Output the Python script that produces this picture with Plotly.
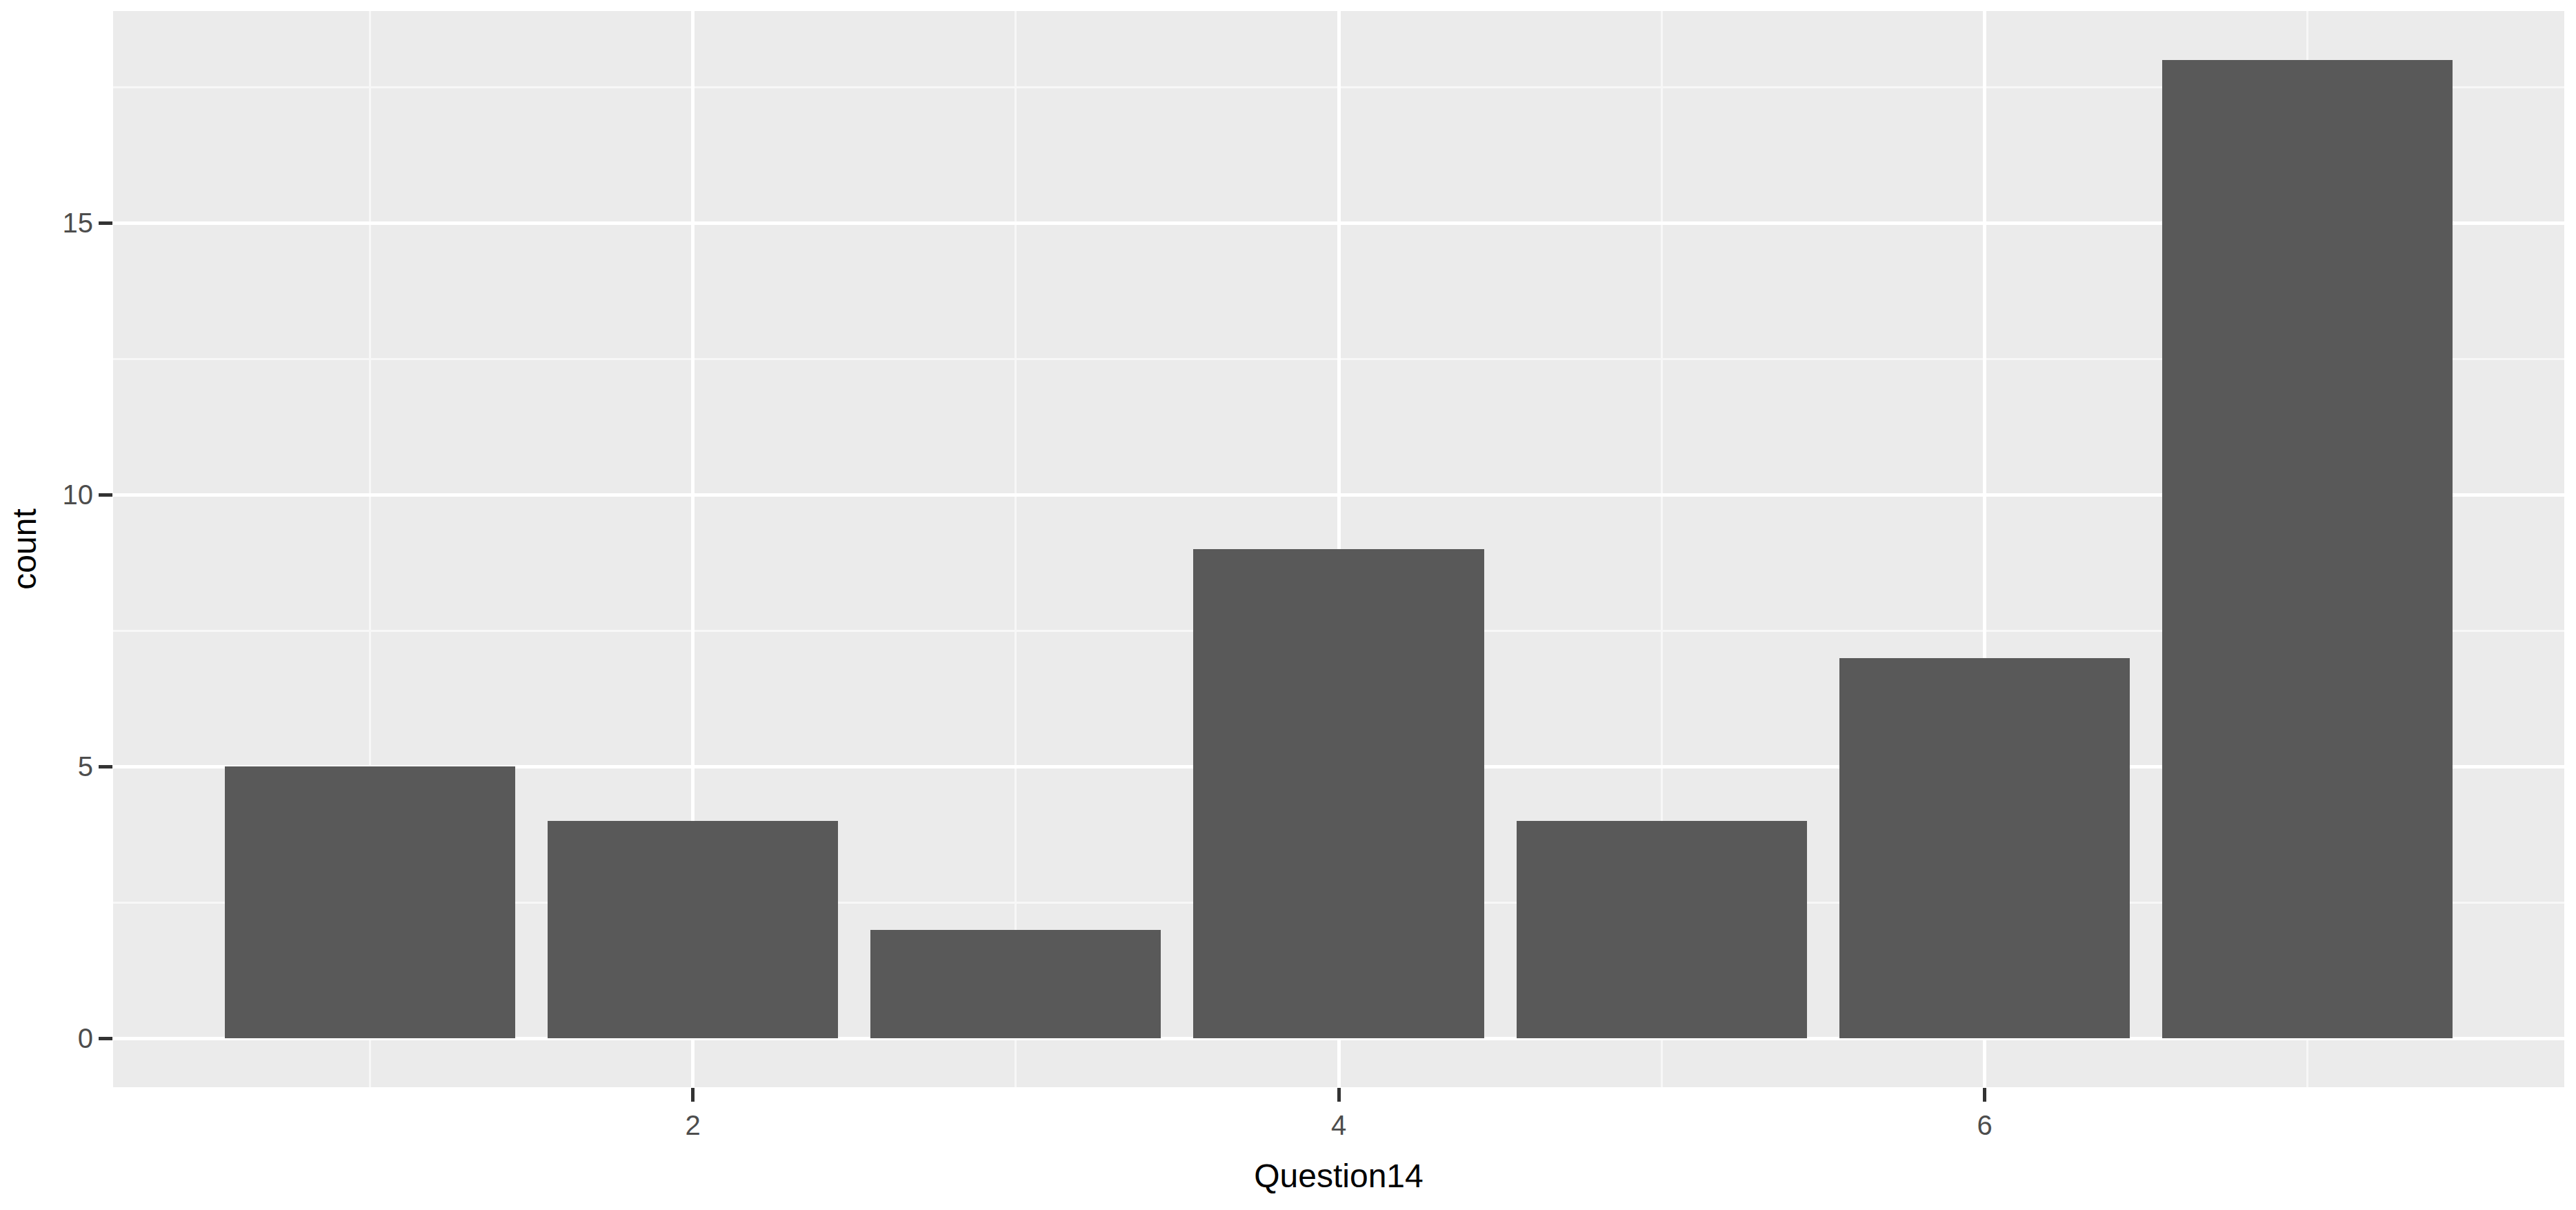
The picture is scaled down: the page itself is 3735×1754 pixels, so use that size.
import plotly.graph_objects as go

# counts for each answer of Question14
answers = [1, 2, 3, 4, 5, 6, 7]
counts = [5, 4, 2, 9, 4, 7, 18]

x_ticks = [2, 4, 6]
x_minor = [1, 3, 5, 7]
y_ticks = [0, 5, 10, 15]
y_minor = [2.5, 7.5, 12.5, 17.5]

fig = go.Figure(
    go.Bar(x=answers, y=counts, width=0.9, marker=dict(color="#595959", line=dict(width=0)))
)

axis_style = dict(
    showgrid=True,
    gridcolor="white",
    gridwidth=5,
    zeroline=False,
    showline=False,
    ticks="outside",
    ticklen=20,
    tickwidth=5,
    tickcolor="#333333",
    tickfont=dict(family="Liberation Sans", size=40, color="#4d4d4d"),
)

fig.update_xaxes(
    axis_style,
    range=[0.205, 7.795],
    tickvals=x_ticks,
    minor=dict(tickvals=x_minor, showgrid=True, gridcolor="#f7f7f7", gridwidth=3, ticks=""),
    title=dict(text="Question14", font=dict(family="Liberation Sans", size=48, color="black"), standoff=35),
)
fig.update_yaxes(
    axis_style,
    range=[-0.9, 18.9],
    tickvals=y_ticks,
    minor=dict(tickvals=y_minor, showgrid=True, gridcolor="#f7f7f7", gridwidth=3, ticks=""),
    title=dict(text="count", font=dict(family="Liberation Sans", size=48, color="black"), standoff=22),
)

# the page body keeps an 8px margin, so the figure is made 16px smaller
fig.update_layout(
    width=3719,
    height=1738,
    plot_bgcolor="#ebebeb",
    paper_bgcolor="white",
    margin=dict(l=156, r=9, t=8, b=170),
    showlegend=False,
    bargap=0,
)

fig.write_html("out.html")
